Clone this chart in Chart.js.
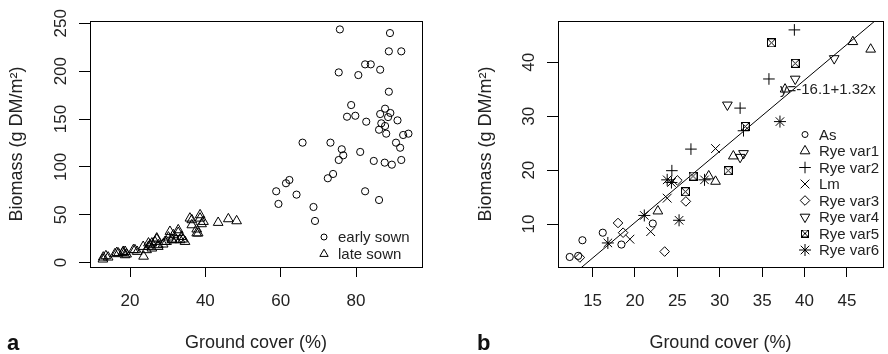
<!DOCTYPE html>
<html>
<head>
<meta charset="utf-8">
<script src="https://cdn.jsdelivr.net/npm/chart.js@4.4.0/dist/chart.umd.min.js"></script>
<style>
  html, body { margin: 0; padding: 0; background: #fff; overflow: hidden; }
  #wrap { position: relative; width: 888px; height: 354px; overflow: hidden; }
  #chartA { position: absolute; left: 0; top: 0; }
  #chartB { position: absolute; left: 440px; top: 0; }
</style>
</head>
<body>
<div id="wrap">
  <canvas id="chartA" width="440" height="354"></canvas>
  <canvas id="chartB" width="450" height="354"></canvas>
</div>
<script>
// ---- panel a data ----
const earlyCover = [75.7, 89.0, 88.7, 92.0, 82.4, 83.9, 86.4, 75.4, 80.6, 88.7, 78.7, 87.7, 77.6, 79.8,
  86.4, 89.1, 88.5, 82.7, 91.0, 86.7, 87.7, 86.1, 88.0, 92.5, 93.9, 90.6, 91.7, 65.8, 73.2, 76.2,
  81.1, 76.6, 75.4, 84.7, 87.6, 89.5, 92.0, 73.9, 72.5, 62.3, 61.4, 58.8, 59.4, 64.2, 68.7, 69.1,
  82.4, 86.1];
const earlyBiomass = [243.6, 239.8, 220.7, 220.7, 207.1, 207.1, 201.5, 198.7, 195.9, 178.5, 164.6, 160.8,
  152.4, 153.4, 155.2, 156.3, 152.0, 147.2, 148.6, 145.5, 142.7, 138.8, 134.7, 133.3, 134.7, 125.3,
  120.0, 125.3, 125.3, 118.4, 115.6, 112.1, 107.2, 106.2, 104.4, 102.3, 107.2, 92.6, 88.1, 86.3,
  82.9, 74.5, 61.3, 71.0, 58.1, 43.5, 74.5, 65.4];
const lateCover = [12.8, 12.9, 13.6, 14.2, 16.0, 16.5, 16.9, 18.1, 18.2, 18.7, 18.7, 19.1, 20.9, 21.3,
  21.9, 23.6, 23.5, 24.4, 24.9, 24.9, 25.3, 25.8, 25.8, 26.6, 27.1, 27.1, 27.5, 27.5, 28.8, 29.3,
  29.7, 30.2, 30.6, 31.1, 31.1, 31.5, 32.2, 32.8, 32.8, 33.3, 33.7, 34.0, 34.6, 35.9, 36.4, 36.4,
  37.7, 37.7, 38.1, 38.6, 38.6, 39.0, 39.5, 43.4, 46.1, 48.3];
const lateBiomass = [3.5, 5.6, 7.0, 5.6, 9.1, 10.4, 9.8, 10.4, 11.5, 11.5, 8.0, 8.8, 13.3, 13.3,
  11.5, 6.5, 16.7, 13.3, 16.7, 20.3, 18.5, 20.3, 15.0, 21.9, 24.4, 25.5, 16.7, 18.5, 19.2, 21.9,
  21.9, 26.5, 32.4, 24.4, 23.7, 28.9, 23.7, 31.3, 34.1, 23.7, 27.1, 24.4, 21.9, 46.3, 44.6, 39.3,
  34.9, 30.7, 30.7, 46.3, 49.8, 40.4, 42.8, 41.8, 45.6, 43.5];
const aLabels = ['early sown', 'late sown'];
const aXTicks = [20, 40, 60, 80];
const aYTicks = [0, 50, 100, 150, 200, 250];

// ---- panel b data ----
const bLabels = ['As', 'Rye var1', 'Rye var2', 'Lm', 'Rye var3', 'Rye var4', 'Rye var5', 'Rye var6'];
const asCover = [12.3, 13.3, 13.8, 16.2, 18.4, 22.1];
const asBiomass = [3.9, 4.1, 7.0, 8.4, 6.2, 10.1];
const var1Cover = [22.7, 28.7, 29.5, 31.6, 37.7, 45.7, 47.8];
const var1Biomass = [12.4, 18.9, 17.9, 22.6, 35.0, 43.8, 42.4];
const var2Cover = [24.35, 26.6, 32.4, 32.8, 35.8, 38.8];
const var2Biomass = [19.9, 23.9, 31.5, 27.3, 36.9, 46.0];
const lmCover = [19.4, 21.85, 23.8, 29.5];
const lmBiomass = [7.2, 8.6, 14.8, 24.0];
const var3Cover = [13.5, 18.0, 18.6, 23.5, 25.0, 26.0];
const var3Biomass = [3.8, 10.2, 8.4, 4.9, 18.1, 14.2];
const var4Cover = [30.9, 32.4, 32.8, 38.9, 43.5];
const var4Biomass = [32.1, 22.4, 23.1, 36.9, 40.7];
const var5Cover = [25.95, 26.85, 31.0, 33.0, 36.1, 38.9];
const var5Biomass = [16.0, 18.9, 19.9, 28.1, 43.6, 39.8];
const var6Cover = [16.8, 21.1, 23.8, 24.3, 25.2, 28.2, 37.1];
const var6Biomass = [6.5, 11.6, 18.2, 17.7, 10.7, 18.2, 29.0];
const bXTicks = [15, 20, 25, 30, 35, 40, 45];
const bYTicks = [10, 20, 30, 40];
const fitIntercept = -16.1;
const fitSlope = 1.32;
const fitCover = [10, 50];
const fitText = 'y=-16.1+1.32x';
const fitTextAt = [37.1, 34.9];

const FONT = '"Liberation Sans", Arial, Helvetica, sans-serif';
Chart.defaults.font.family = FONT;
Chart.defaults.color = '#222';

function pts(xs, ys) {
  return xs.map((x, i) => ({ x: x, y: ys[i] }));
}

// R's pch 7: square with an x inside
function boxedX(size) {
  const c = document.createElement('canvas');
  c.width = size; c.height = size;
  const g = c.getContext('2d');
  g.strokeStyle = '#000';
  g.lineWidth = 1;
  g.strokeRect(0.5, 0.5, size - 1, size - 1);
  g.beginPath();
  g.moveTo(1, 1); g.lineTo(size - 1, size - 1);
  g.moveTo(size - 1, 1); g.lineTo(1, size - 1);
  g.stroke();
  return c;
}

const symA = [
  { pointStyle: 'circle', radius: 3.6 },
  { pointStyle: 'triangle', radius: 5.6 }
];
const symB = [
  { pointStyle: 'circle', radius: 3.6 },
  { pointStyle: 'triangle', radius: 5.6 },
  { pointStyle: 'cross', radius: 5.8 },
  { pointStyle: 'crossRot', radius: 6.2 },
  { pointStyle: 'rectRot', radius: 4.8 },
  { pointStyle: 'triangle', radius: 5.6, rotation: 180 },
  { pointStyle: boxedX(9), radius: 4.5 },
  { pointStyle: 'star', radius: 6 }
];
const legendSymB = symB.slice();
legendSymB[0] = { pointStyle: 'circle', radius: 3 };
legendSymB[6] = { pointStyle: boxedX(8), radius: 4 };

function scatterSet(label, xs, ys, sym) {
  return {
    label: label,
    data: pts(xs, ys),
    pointStyle: sym.pointStyle,
    pointRadius: sym.radius,
    pointHoverRadius: sym.radius,
    pointRotation: sym.rotation || 0,
    pointBorderColor: '#000',
    pointBackgroundColor: 'rgba(0,0,0,0)',
    pointBorderWidth: 1
  };
}

function axes(xMin, xMax, xTicks, yMin, yMax, yTicks, yWidth, yTitlePad) {
  return {
    x: {
      type: 'linear', min: xMin, max: xMax,
      afterBuildTicks: s => { s.ticks = xTicks.map(v => ({ value: v })); },
      afterFit: s => { s.height = 87; },
      grid: { drawOnChartArea: false, drawTicks: true, tickLength: 10, color: '#000', lineWidth: 1 },
      border: { display: false },
      ticks: { font: { size: 17 }, color: '#222', padding: 14, maxRotation: 0, autoSkip: false },
      title: { display: true, text: 'Ground cover (%)', font: { size: 18 }, color: '#222', padding: { top: 0, bottom: 0 } }
    },
    y: {
      type: 'linear', min: yMin, max: yMax,
      afterBuildTicks: s => { s.ticks = yTicks.map(v => ({ value: v })); },
      afterFit: s => { s.width = yWidth; },
      grid: { drawOnChartArea: false, drawTicks: true, tickLength: 11, color: '#000', lineWidth: 1 },
      border: { display: false },
      ticks: { display: false },
      title: { display: true, text: 'Biomass (g DM/m²)', font: { size: 18 }, color: '#222', padding: { top: yTitlePad, bottom: 0 } }
    }
  };
}

// box, rotated y labels, legend and panel letter (R base-graphics look)
function decorPlugin(cfg) {
  return {
    id: 'decor',
    afterDraw(chart) {
      const ctx = chart.ctx;
      const a = chart.chartArea;
      const ys = chart.scales.y;
      const xs = chart.scales.x;
      ctx.save();
      ctx.strokeStyle = '#000';
      ctx.lineWidth = 1;
      ctx.strokeRect(Math.round(a.left) + 0.5, Math.round(a.top) + 0.5,
        Math.round(a.right - a.left), Math.round(a.bottom - a.top));

      ctx.fillStyle = '#222';
      ctx.font = '17px ' + FONT;
      ctx.textAlign = 'center';
      ctx.textBaseline = 'middle';
      cfg.yTicks.forEach(v => {
        ctx.save();
        ctx.translate(a.left - 29, ys.getPixelForValue(v));
        ctx.rotate(-Math.PI / 2);
        ctx.fillText(String(v), 0, 0);
        ctx.restore();
      });

      ctx.font = '15px ' + FONT;
      ctx.textAlign = 'left';
      cfg.legendLabels.forEach((lab, i) => {
        const y = cfg.legendY + i * cfg.legendStep;
        const s = cfg.legendSym[i];
        ctx.strokeStyle = '#000';
        ctx.fillStyle = 'rgba(0,0,0,0)';
        ctx.lineWidth = 1;
        Chart.helpers.drawPoint(ctx, { pointStyle: s.pointStyle, radius: s.radius, rotation: s.rotation || 0, borderWidth: 1 }, cfg.legendX, y);
        ctx.fillStyle = '#222';
        ctx.fillText(lab, cfg.legendX + 14, y + 1);
      });

      if (cfg.note) {
        ctx.fillStyle = '#222';
        ctx.fillText(cfg.note.text, xs.getPixelForValue(cfg.note.at[0]), ys.getPixelForValue(cfg.note.at[1]));
      }

      ctx.font = 'bold 22px ' + FONT;
      ctx.textBaseline = 'alphabetic';
      ctx.fillStyle = '#111';
      ctx.fillText(cfg.letter, cfg.letterX, 350);
      ctx.restore();
    }
  };
}

new Chart(document.getElementById('chartA'), {
  type: 'scatter',
  data: {
    datasets: [
      scatterSet(aLabels[0], earlyCover, earlyBiomass, symA[0]),
      scatterSet(aLabels[1], lateCover, lateBiomass, symA[1])
    ]
  },
  options: {
    responsive: false, animation: false, devicePixelRatio: 1,
    layout: { padding: { top: 21, right: 18, left: 0, bottom: 0 } },
    plugins: { legend: { display: false }, tooltip: { enabled: false } },
    scales: axes(9.38, 97.5, aXTicks, -4.6, 252.4, aYTicks, 90, 6)
  },
  plugins: [decorPlugin({
    yTicks: aYTicks, legendLabels: aLabels, legendSym: [{ pointStyle: 'circle', radius: 3 }, { pointStyle: 'triangle', radius: 4.8 }],
    legendX: 324, legendY: 237, legendStep: 17, letter: 'a', letterX: 7
  })]
});

const bSets = [
  [asCover, asBiomass], [var1Cover, var1Biomass], [var2Cover, var2Biomass], [lmCover, lmBiomass],
  [var3Cover, var3Biomass], [var4Cover, var4Biomass], [var5Cover, var5Biomass], [var6Cover, var6Biomass]
];
const bDatasets = bSets.map((s, i) => scatterSet(bLabels[i], s[0], s[1], symB[i]));
bDatasets.push({
  label: 'fit',
  data: fitCover.map(x => ({ x: x, y: fitIntercept + fitSlope * x })),
  showLine: true, pointRadius: 0, borderColor: '#000', borderWidth: 1, fill: false
});

new Chart(document.getElementById('chartB'), {
  type: 'scatter',
  data: { datasets: bDatasets },
  options: {
    responsive: false, animation: false, devicePixelRatio: 1,
    layout: { padding: { top: 21, right: 0, left: 0, bottom: 0 } },
    plugins: { legend: { display: false }, tooltip: { enabled: false } },
    scales: axes(10.92, 49.23, bXTicks, 2.04, 47.65, bYTicks, 118, 35)
  },
  plugins: [decorPlugin({
    yTicks: bYTicks, legendLabels: bLabels, legendSym: legendSymB,
    legendX: 365, legendY: 134.5, legendStep: 16.5, letter: 'b', letterX: 37,
    note: { text: fitText, at: fitTextAt }
  })]
});
</script>
</body>
</html>
